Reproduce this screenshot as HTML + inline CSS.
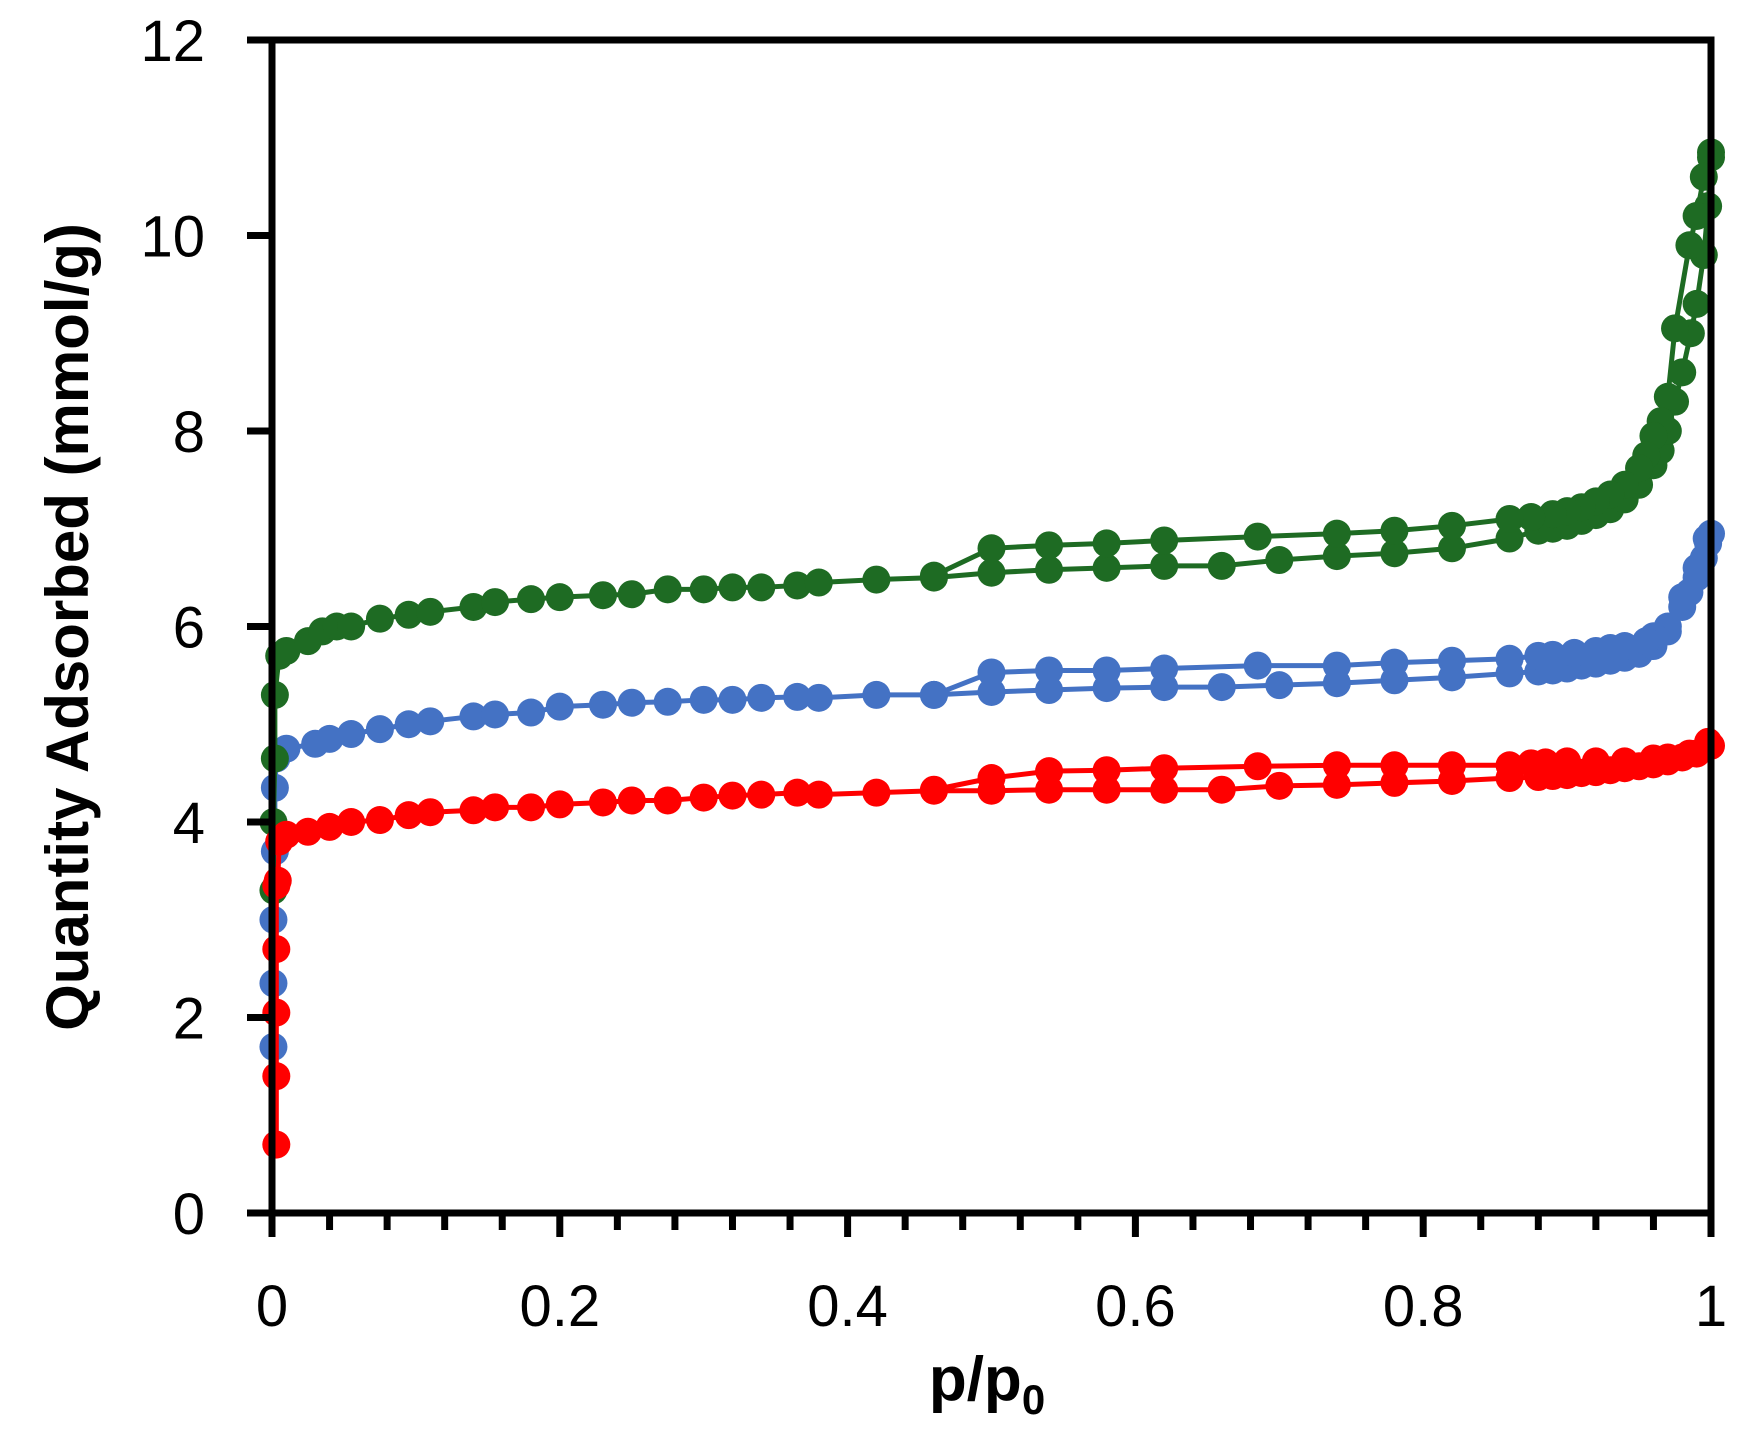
<!DOCTYPE html>
<html><head><meta charset="utf-8"><style>
html,body{margin:0;padding:0;background:#fff;}
svg{display:block;}
</style></head><body>
<svg id="c" width="1739" height="1444" xmlns="http://www.w3.org/2000/svg">
<rect x="0" y="0" width="1739" height="1444" fill="#fff"/>
<g id="series"></g>
<g id="axes" stroke="#000" fill="none"></g>
<g font-family="'Liberation Sans',sans-serif" font-size="58" fill="#000" id="labels"></g>
<text x="987" y="1400" text-anchor="middle" font-family="'Liberation Sans',sans-serif" font-weight="bold" font-size="62">p/p<tspan font-size="42" dy="14">0</tspan></text>
<text transform="translate(88,627) rotate(-90)" text-anchor="middle" font-family="'Liberation Sans',sans-serif" font-weight="bold" font-size="60">Quantity Adsorbed (mmol/g)</text>
</svg>
<script>
const X0=272,X1=1711,Y0=1213,YT=40;
const sx=x=>X0+x*(X1-X0), sy=y=>Y0-y*(Y0-YT)/12;
const NS="http://www.w3.org/2000/svg";
function el(p,t,a){const e=document.createElementNS(NS,t);for(const k in a)e.setAttribute(k,a[k]);p.appendChild(e);return e;}
const ax=document.getElementById('axes'),lb=document.getElementById('labels');
el(ax,'rect',{x:X0,y:YT,width:X1-X0,height:Y0-YT,'stroke-width':7});
for(let i=0;i<=12;i+=2){const y=sy(i);el(ax,'line',{x1:247,x2:X0,y1:y,y2:y,'stroke-width':7});
 const t=el(lb,'text',{x:205,y:y+21,'text-anchor':'end'});t.textContent=i;}
for(let i=0;i<=25;i++){const x=sx(i*0.04);const maj=i%5==0;el(ax,'line',{x1:x,x2:x,y1:Y0,y2:maj?1237:1230,'stroke-width':7});
 if(maj){const t=el(lb,'text',{x:x,y:1326,'text-anchor':'middle'});t.textContent=(i==0?'0':i==25?'1':(i*0.04).toFixed(1));}}
const green=[[0.001,3.3],[0.001,4.0],[0.002,4.65],[0.002,5.3],[0.005,5.7],[0.01,5.75],[0.025,5.85],[0.035,5.95],[0.045,6.0],[0.055,6.0],[0.075,6.08],[0.095,6.12],[0.11,6.15],[0.14,6.2],[0.155,6.25],[0.18,6.28],[0.2,6.3],[0.23,6.32],[0.25,6.33],[0.275,6.38],[0.3,6.38],[0.32,6.4],[0.34,6.4],[0.365,6.42],[0.38,6.45],[0.42,6.48],[0.46,6.5],[0.5,6.55],[0.54,6.58],[0.58,6.6],[0.62,6.62],[0.66,6.62],[0.7,6.68],[0.74,6.72],[0.78,6.75],[0.82,6.8],[0.86,6.9],[0.88,6.98],[0.89,7.0],[0.9,7.03],[0.91,7.08],[0.92,7.14],[0.93,7.2],[0.94,7.3],[0.95,7.45],[0.96,7.65],[0.965,7.8],[0.97,8.0],[0.975,8.3],[0.98,8.6],[0.986,9.0],[0.99,9.3],[0.995,9.8],[0.998,10.3],[1.0,10.8],
[1.0,10.85],[0.995,10.6],[0.99,10.2],[0.985,9.9],[0.975,9.05],[0.97,8.35],[0.965,8.1],[0.96,7.95],[0.955,7.75],[0.95,7.62],[0.94,7.45],[0.93,7.35],[0.92,7.28],[0.91,7.22],[0.9,7.18],[0.89,7.15],[0.875,7.12],[0.86,7.1],[0.82,7.03],[0.78,6.98],[0.74,6.95],[0.685,6.92],[0.62,6.88],[0.58,6.85],[0.54,6.83],[0.5,6.8],[0.46,6.52]];
const blue=[[0.001,1.7],[0.001,2.35],[0.001,3.0],[0.002,3.7],[0.002,4.35],[0.003,4.65],[0.01,4.75],[0.03,4.8],[0.04,4.85],[0.055,4.9],[0.075,4.95],[0.095,5.0],[0.11,5.03],[0.14,5.08],[0.155,5.1],[0.18,5.12],[0.2,5.18],[0.23,5.2],[0.25,5.22],[0.275,5.23],[0.3,5.25],[0.32,5.25],[0.34,5.27],[0.365,5.28],[0.38,5.27],[0.42,5.3],[0.46,5.3],[0.5,5.33],[0.54,5.35],[0.58,5.37],[0.62,5.38],[0.66,5.38],[0.7,5.4],[0.74,5.42],[0.78,5.45],[0.82,5.48],[0.86,5.52],[0.88,5.54],[0.89,5.55],[0.9,5.57],[0.91,5.6],[0.92,5.62],[0.93,5.65],[0.94,5.68],[0.95,5.72],[0.96,5.8],[0.97,5.95],[0.98,6.2],[0.985,6.35],[0.99,6.5],[0.995,6.7],[0.998,6.85],[1.0,6.95],
[0.997,6.9],[0.99,6.6],[0.98,6.3],[0.97,6.0],[0.96,5.9],[0.955,5.85],[0.94,5.8],[0.93,5.78],[0.92,5.75],[0.905,5.73],[0.89,5.71],[0.88,5.7],[0.86,5.67],[0.82,5.65],[0.78,5.63],[0.74,5.6],[0.685,5.6],[0.62,5.57],[0.58,5.55],[0.54,5.55],[0.5,5.53],[0.46,5.3]];
const red=[[0.003,0.7],[0.003,1.4],[0.003,2.05],[0.003,2.7],[0.003,3.35],[0.004,3.4],[0.005,3.8],[0.01,3.87],[0.025,3.9],[0.04,3.95],[0.055,4.0],[0.075,4.02],[0.095,4.07],[0.11,4.1],[0.14,4.12],[0.155,4.15],[0.18,4.15],[0.2,4.18],[0.23,4.2],[0.25,4.22],[0.275,4.22],[0.3,4.25],[0.32,4.27],[0.34,4.28],[0.365,4.3],[0.38,4.28],[0.42,4.3],[0.46,4.32],[0.5,4.32],[0.54,4.33],[0.58,4.33],[0.62,4.33],[0.66,4.33],[0.7,4.37],[0.74,4.38],[0.78,4.4],[0.82,4.42],[0.86,4.45],[0.88,4.46],[0.89,4.47],[0.9,4.48],[0.91,4.5],[0.92,4.51],[0.93,4.53],[0.94,4.55],[0.95,4.57],[0.96,4.59],[0.97,4.62],[0.98,4.66],[0.99,4.7],[1.0,4.78],
[0.998,4.82],[0.985,4.7],[0.97,4.66],[0.96,4.65],[0.94,4.62],[0.92,4.62],[0.9,4.62],[0.885,4.61],[0.875,4.6],[0.86,4.58],[0.82,4.58],[0.78,4.58],[0.74,4.58],[0.685,4.57],[0.62,4.55],[0.58,4.53],[0.54,4.52],[0.5,4.45],[0.46,4.33]];
const sg=document.getElementById('series');
[[blue,'#4472C4'],[green,'#1E6B23'],[red,'#FF0000']].forEach(([d,c])=>{
 el(sg,'polyline',{points:d.map(p=>sx(p[0])+','+sy(p[1])).join(' '),fill:'none',stroke:c,'stroke-width':5});
 d.forEach(p=>el(sg,'circle',{cx:sx(p[0]),cy:sy(p[1]),r:14,fill:c}));
});
</script>
</body></html>
